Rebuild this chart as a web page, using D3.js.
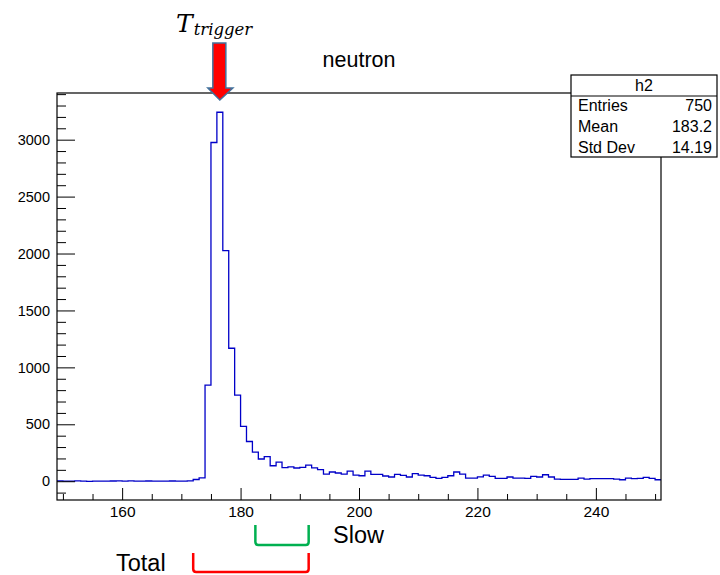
<!DOCTYPE html>
<html>
<head>
<meta charset="utf-8">
<script src="https://cdn.jsdelivr.net/npm/d3@7/dist/d3.min.js"></script>
<style>
  html, body { margin: 0; padding: 0; background: #fff; }
  svg { display: block; }
  text { font-family: "Liberation Sans", Arial, Helvetica, sans-serif; }
</style>
</head>
<body>
<svg id="chart" width="720" height="575"></svg>
<script>
// ---------------- data ----------------
const histName = "h2";
const chartTitle = "neutron";
const binLow = 149;     // lower edge of first bin
const binHigh = 251;    // upper edge of last bin
const binWidth = 1;
const counts = [
  3, 1, 0, 3, 0, -2, 1, 0, 0, 2,          // 149-158
  3, 1, 3, 0, 1, 2, 0, 1, 0, 2,           // 159-168
  1, 0, 3, 15, 30, 844, 2975, 3241, 2025, 1168, // 169-178
  756, 481, 349, 256, 195, 216, 136, 168, 120, 126, // 179-188
  116, 121, 142, 118, 101, 63, 81, 72, 63, 89,      // 189-198
  54, 48, 89, 60, 60, 46, 37, 60, 51, 37,           // 199-208
  66, 54, 48, 33, 25, 33, 48, 81, 63, 28,           // 209-218
  28, 39, 54, 42, 25, 25, 37, 28, 28, 25,           // 219-228
  42, 37, 57, 37, 19, 16, 16, 16, 28, 19,           // 229-238
  22, 22, 22, 22, 19, 13, 28, 22, 25, 33,           // 239-248
  25, 13                                            // 249-250
];
const yDomain = [-165, 3410];
const xMajorTicks = [160, 180, 200, 220, 240];
const yMajorTicks = [0, 500, 1000, 1500, 2000, 2500, 3000];
const statLabels = ["Entries", "Mean", "Std Dev"];
const statValues = ["750", "183.2", "14.19"];
const slowRange = [182.5, 191.5];
const totalRange = [172, 191.5];
const triggerTime = 176.5;

// ---------------- layout ----------------
const svg = d3.select("#chart");
const frame = { left: 57, right: 661, top: 93, bottom: 500 };

const x = d3.scaleLinear().domain([binLow, binHigh]).range([frame.left, frame.right]);
const y = d3.scaleLinear().domain(yDomain).range([frame.bottom, frame.top]);

// histogram step line
const bins = counts.map((c, i) => ({ x0: binLow + i * binWidth, x1: binLow + (i + 1) * binWidth, c }));
const pts = [];
bins.forEach(b => { pts.push([b.x0, b.c]); pts.push([b.x1, b.c]); });
const line = d3.line().x(d => x(d[0])).y(d => y(d[1]));

svg.append("clipPath").attr("id", "fclip").append("rect")
  .attr("x", frame.left).attr("y", frame.top)
  .attr("width", frame.right - frame.left).attr("height", frame.bottom - frame.top);

svg.append("path")
  .attr("d", line(pts))
  .attr("fill", "none")
  .attr("stroke", "#0000c8")
  .attr("stroke-width", 1.3)
  .attr("clip-path", "url(#fclip)");

// axes
const xMinor = d3.range(150, 251, 5).filter(v => !xMajorTicks.includes(v));
const yMinor = d3.range(-100, 3401, 100).filter(v => !yMajorTicks.includes(v));

const gx = svg.append("g").attr("transform", `translate(0,${frame.bottom})`);
gx.call(d3.axisBottom(x).tickValues(xMajorTicks).tickSizeInner(-12).tickSizeOuter(0).tickPadding(6).tickFormat(d3.format("d")));
const gxm = svg.append("g").attr("transform", `translate(0,${frame.bottom})`);
gxm.call(d3.axisBottom(x).tickValues(xMinor).tickSizeInner(-6).tickSizeOuter(0).tickFormat(""));

const gy = svg.append("g").attr("transform", `translate(${frame.left},0)`);
gy.call(d3.axisLeft(y).tickValues(yMajorTicks).tickSizeInner(-18).tickSizeOuter(0).tickPadding(7).tickFormat(d3.format("d")));
const gym = svg.append("g").attr("transform", `translate(${frame.left},0)`);
gym.call(d3.axisLeft(y).tickValues(yMinor).tickSizeInner(-9).tickSizeOuter(0).tickFormat(""));

[gx, gxm, gy, gym].forEach(g => {
  g.select(".domain").remove();
  g.selectAll(".tick line").attr("stroke", "#000").attr("stroke-width", 1);
  g.selectAll("text").attr("fill", "#000").style("font-family", "Liberation Sans, Arial, sans-serif");
});
gx.selectAll("text").style("font-size", "15.5px");
gy.selectAll("text").style("font-size", "14.5px");

// frame
svg.append("rect")
  .attr("x", frame.left).attr("y", frame.top)
  .attr("width", frame.right - frame.left).attr("height", frame.bottom - frame.top)
  .attr("fill", "none").attr("stroke", "#000").attr("stroke-width", 1.2);

// title
svg.append("text").attr("x", (frame.left + frame.right) / 2).attr("y", 67)
  .attr("text-anchor", "middle").style("font-size", "21.5px").attr("fill", "#000").text(chartTitle);

// stats box
const sb = { x: 571, y: 75, w: 146, h: 82, sep: 96 };
svg.append("rect").attr("x", sb.x).attr("y", sb.y).attr("width", sb.w).attr("height", sb.h)
  .attr("fill", "#fff").attr("stroke", "#000").attr("stroke-width", 1.2);
svg.append("line").attr("x1", sb.x).attr("x2", sb.x + sb.w).attr("y1", sb.sep).attr("y2", sb.sep)
  .attr("stroke", "#000").attr("stroke-width", 1);
svg.append("text").attr("x", sb.x + sb.w / 2).attr("y", 91).attr("text-anchor", "middle")
  .style("font-size", "16px").attr("fill", "#000").text(histName);
statLabels.forEach((lab, i) => {
  const by = 111 + i * 21;
  svg.append("text").attr("x", sb.x + 7).attr("y", by).style("font-size", "16px").attr("fill", "#000").text(lab);
  svg.append("text").attr("x", sb.x + sb.w - 5).attr("y", by).attr("text-anchor", "end")
    .style("font-size", "16px").attr("fill", "#000").text(statValues[i]);
});

// trigger arrow
const ax = x(triggerTime);
const arrow = [
  [ax - 7, 43], [ax + 6, 43], [ax + 6, 88], [ax + 13, 88], [ax, 100], [ax - 12, 88], [ax - 7, 88]
];
svg.append("path").attr("d", d3.line()(arrow) + "Z")
  .attr("fill", "#ff0000").attr("stroke", "#41719c").attr("stroke-width", 1.5).attr("stroke-linejoin", "miter");

const tt = svg.append("text").attr("x", 176).attr("y", 32)
  .style("font-family", "DejaVu Serif, serif").style("font-style", "italic").attr("fill", "#000");
tt.append("tspan").style("font-size", "25px").text("T");
tt.append("tspan").attr("dy", 3).attr("dx", 1).style("font-size", "16.5px").text("trigger");

// Slow / Total brackets
function bracket(r, yTop, yBot, color) {
  const x0 = x(r[0]), x1 = x(r[1]), rr = 3;
  const p = `M${x0},${yTop} L${x0},${yBot - rr} Q${x0},${yBot} ${x0 + rr},${yBot} L${x1 - rr},${yBot} Q${x1},${yBot} ${x1},${yBot - rr} L${x1},${yTop}`;
  svg.append("path").attr("d", p).attr("fill", "none").attr("stroke", color).attr("stroke-width", 2.5);
}
bracket(slowRange, 525, 545, "#00b050");
bracket(totalRange, 553, 572, "#ff0000");
svg.append("text").attr("x", 333).attr("y", 543).style("font-size", "23.5px").attr("fill", "#000").text("Slow");
svg.append("text").attr("x", 116).attr("y", 571).style("font-size", "23.5px").attr("fill", "#000").text("Total");
</script>
</body>
</html>
